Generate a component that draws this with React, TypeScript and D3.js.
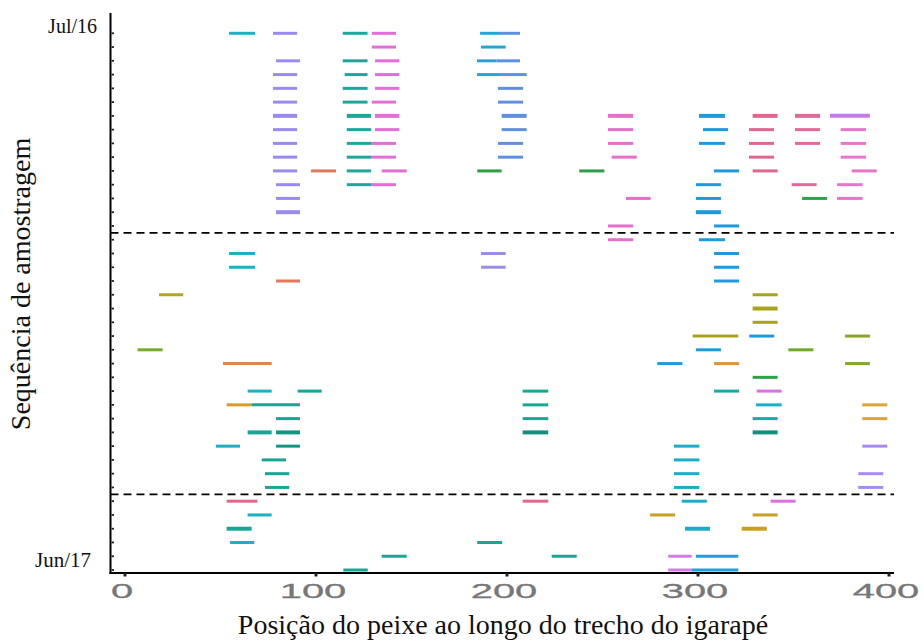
import React from "react";
import * as d3 from "d3";

// Sampling sequence: 40 consecutive surveys, Jul/16 (row 0) to Jun/17 (row 39)
const rowCount = 40;
const firstLabel = "Jul/16";
const lastLabel = "Jun/17";
// Boundaries between sampling periods (between rows)
const periodBreaks = [14.5, 33.5];
// Rows where repeated detections overlap (drawn a bit heavier)
const heavyRows = [6, 13, 20, 29, 36];
const xTicks = [0, 100, 200, 300, 400];

// Detections per tagged fish: [row, start (m), end (m)]
const fishCyan = [[0, 54.5, 68.1], [16, 54.5, 68.1], [17, 54.5, 68.1], [26, 64.2, 76.8], [30, 47.6, 60.2], [35, 64.2, 76.8], [37, 55, 67.7]];
const fishPurple = [[0, 77.5, 90.1], [2, 79.1, 91.6], [3, 77.5, 90.1], [4, 77.5, 90.1], [5, 77.5, 90.1], [6, 77.5, 90.1], [7, 77.5, 90.1], [8, 77.5, 90.1], [9, 77.5, 90.1], [10, 77.5, 90.1], [11, 79.1, 91.6], [12, 79.1, 91.6], [13, 79.1, 91.6]];
const fishTeal = [[0, 114, 127], [2, 114, 127], [3, 115, 127], [4, 114, 127], [5, 114, 127], [6, 116.1, 128.8], [7, 116.1, 128.8], [8, 116.1, 128.8], [9, 116.1, 128.8], [10, 116.1, 128.8], [11, 116.1, 128.8]];
const fishPink = [[0, 129.2, 141.9], [1, 129.2, 141.9], [2, 130.9, 143.6], [3, 130.9, 143.6], [4, 130.9, 143.6], [5, 129.2, 141.9], [6, 130.9, 143.6], [7, 130.9, 143.6], [8, 128.8, 141.9], [9, 128.8, 141.9], [10, 134.4, 147.5], [11, 128.8, 141.9]];
const fishSalmon = [[10, 97.4, 110.5], [18, 79.1, 91.6]];
const fishGreen = [[10, 184.4, 197.2], [10, 237.8, 251]];
const fishSky = [[0, 185.9, 196.3], [1, 186.4, 199.3], [2, 184.3, 194.6], [3, 184.3, 196.3]];
const fishSteel = [[0, 196.3, 206.8], [2, 194.6, 206.8], [3, 196.3, 210.3], [4, 195.3, 208.4], [5, 195.3, 208.4], [6, 197.2, 210.3], [7, 197.2, 210.3], [8, 195.3, 208.4], [9, 195.3, 208.4]];
const fishOrchidPink = [[6, 252.9, 266], [7, 252.9, 266], [8, 252.9, 266], [9, 254.8, 267.9], [12, 262.3, 275.2], [14, 252.9, 266], [15, 252.9, 266]];
const fishBlue = [[6, 300.5, 314.1], [7, 302.6, 315.7], [8, 300.5, 314.1], [10, 308.4, 321.5], [11, 298.9, 312], [12, 298.9, 312], [13, 298.9, 312], [14, 308.4, 321.5], [15, 300.5, 314.1], [16, 308.4, 321.5], [17, 308.4, 321.5], [18, 308.4, 321.5], [22, 326.8, 339.9], [23, 298.9, 312], [24, 278.7, 291.8]];
const fishRose = [[6, 328.6, 341.7], [7, 326.7, 339.8], [8, 326.7, 339.8], [9, 326.7, 339.8], [10, 328.6, 341.7]];
const fishRose2 = [[6, 350.8, 363.9], [7, 350.8, 363.9], [8, 350.8, 363.9], [11, 349, 362.1]];
const fishOrchid = [[6, 369.1, 390]];
const fishPink3 = [[7, 374.7, 388], [8, 374.7, 388], [9, 374.7, 388], [10, 380.5, 393.6], [11, 372.8, 386.2], [12, 372.8, 386.2]];
const fishGreen2 = [[12, 354.5, 367.5], [25, 328.6, 341.7]];
const fishLime = [[23, 347.3, 360.4]];
const fishLavender = [[16, 186.4, 199.3], [17, 186.4, 199.3]];
const fishOlive = [[19, 17.8, 30.5]];
const fishLightGreen = [[23, 6.6, 19.7]];
const fishOrange = [[24, 51.3, 76.8]];
const fishAmber = [[27, 53.2, 66.3]];
const fishOlive2 = [[19, 328.6, 341.7], [20, 328.6, 341.7], [21, 328.6, 341.7], [22, 297.2, 321.1]];
const fishOliveGreen = [[22, 377, 390], [24, 377, 390]];
const fishOrange2 = [[24, 308.4, 321.5]];
const fishGold2 = [[27, 386, 399.1], [28, 386, 399.1]];
const fishPurple3 = [[30, 386, 399.1], [32, 383.9, 397], [33, 383.9, 397]];
const fishRed = [[34, 53.2, 69.3], [34, 208.2, 221.6]];
const fishGold3 = [[35, 274.9, 288], [35, 328.6, 341.7], [36, 322.9, 336]];
const fishMagenta = [[26, 330.7, 343.8], [34, 338, 351.1]];
const fishPinkPurple = [[38, 284.4, 296.7], [39, 284.4, 296.7]];
const fishBlue2 = [[38, 298.9, 321.1], [39, 296.7, 321.1]];
const fishTeal2 = [[26, 90.4, 103], [27, 66.3, 91.6], [28, 79.1, 91.6], [29, 64.2, 76.8], [31, 71.6, 84.3], [32, 73.3, 86], [33, 73.3, 86], [36, 53.2, 66.3]];
const fishDarkTeal = [[29, 79.1, 91.6], [30, 79.1, 91.6]];
const fishTeal3 = [[26, 208.2, 221.6], [27, 208.2, 221.6], [28, 208.2, 221.6], [37, 184.4, 197.5], [38, 134.4, 147.5], [38, 223.4, 236.5], [39, 114.3, 127.1]];
const fishDarkTeal2 = [[29, 208.2, 221.6], [29, 328.6, 341.7]];
const fishTeal4 = [[26, 308.4, 321.5], [28, 328.6, 341.7]];
const fishCyan2 = [[27, 330.4, 343.8], [30, 287.4, 300.7], [31, 287.4, 300.7], [32, 287.4, 300.7], [33, 287.4, 300.7], [34, 291.5, 304.6], [36, 293.2, 306.3]];

const fishTable: { color: string; det: number[][] }[] = [
  { color: "#1bb0c4", det: fishCyan },
  { color: "#9a8af0", det: fishPurple },
  { color: "#1da79c", det: fishTeal },
  { color: "#e36ed8", det: fishPink },
  { color: "#e2785a", det: fishSalmon },
  { color: "#2e9f45", det: fishGreen },
  { color: "#22a6da", det: fishSky },
  { color: "#5f90e0", det: fishSteel },
  { color: "#e56fcb", det: fishOrchidPink },
  { color: "#1e9adc", det: fishBlue },
  { color: "#de6690", det: fishRose },
  { color: "#e0699a", det: fishRose2 },
  { color: "#c47be8", det: fishOrchid },
  { color: "#e676cc", det: fishPink3 },
  { color: "#2ea247", det: fishGreen2 },
  { color: "#6daa26", det: fishLime },
  { color: "#9a8dea", det: fishLavender },
  { color: "#b4a51e", det: fishOlive },
  { color: "#74ac2a", det: fishLightGreen },
  { color: "#e0864a", det: fishOrange },
  { color: "#d89c2c", det: fishAmber },
  { color: "#a9a21c", det: fishOlive2 },
  { color: "#84a824", det: fishOliveGreen },
  { color: "#e0953a", det: fishOrange2 },
  { color: "#dba53c", det: fishGold2 },
  { color: "#a68cf0", det: fishPurple3 },
  { color: "#e5668a", det: fishRed },
  { color: "#c9a020", det: fishGold3 },
  { color: "#df70e4", det: fishMagenta },
  { color: "#d47ce6", det: fishPinkPurple },
  { color: "#1fa0d6", det: fishBlue2 },
  { color: "#17a596", det: fishTeal2 },
  { color: "#129683", det: fishDarkTeal },
  { color: "#18a793", det: fishTeal3 },
  { color: "#11907f", det: fishDarkTeal2 },
  { color: "#19aaa6", det: fishTeal4 },
  { color: "#1badc8", det: fishCyan2 },
];

const W = 923;
const H = 641;
const axisX = 110.5;
const axisY = 573;
const axisTop = 13;
const axisRight = 894;

export default function App() {
  const x = d3.scaleLinear().domain([0, 400]).range([125, 889]);
  const y = d3.scaleLinear().domain([0, rowCount - 1]).range([33.3, 570]);
  const rows = d3.range(rowCount);
  const serif = "'Liberation Serif', 'Times New Roman', serif";
  const sans = "'Liberation Sans', Arial, sans-serif";

  return (
    <svg
      width={W}
      height={H}
      style={{ position: "absolute", left: 0, top: 0, background: "#fff" }}
    >
      {/* detections */}
      <g>
        {fishTable.map((f, i) =>
          f.det.map((d, j) => (
            <line
              key={`${i}-${j}`}
              x1={x(d[1])}
              x2={x(d[2])}
              y1={y(d[0])}
              y2={y(d[0])}
              stroke={f.color}
              strokeWidth={heavyRows.includes(d[0]) ? 4 : 3}
            />
          ))
        )}
      </g>

      {/* period separators */}
      {periodBreaks.map((b) => (
        <line
          key={b}
          x1={axisX}
          x2={axisRight}
          y1={y(b)}
          y2={y(b)}
          stroke="#000"
          strokeWidth={1.8}
          strokeDasharray="8,5"
        />
      ))}

      {/* axes */}
      <line x1={axisX} x2={axisX} y1={axisTop} y2={axisY + 1} stroke="#000" strokeWidth={2} />
      <line x1={axisX - 1} x2={axisRight} y1={axisY} y2={axisY} stroke="#000" strokeWidth={2} />
      {rows.map((r) => (
        <line
          key={r}
          x1={axisX + 1}
          x2={axisX + 3.5}
          y1={y(r)}
          y2={y(r)}
          stroke="#222"
          strokeWidth={1.8}
        />
      ))}
      {xTicks.map((t) => (
        <g key={t}>
          <line x1={x(t)} x2={x(t)} y1={axisY} y2={axisY + 3.5} stroke="#222" strokeWidth={3} />
          <text
            transform={`translate(${x(t) - 3},598) scale(1.9,1)`}
            textAnchor="middle"
            fontFamily={sans}
            fontSize={21}
            fill="#777"
            stroke="#777"
            strokeWidth={0.3}
          >
            {t}
          </text>
        </g>
      ))}

      <text x={97} y={33} textAnchor="end" fontFamily={serif} fontSize={20} fill="#111">
        {firstLabel}
      </text>
      <text x={91} y={567} textAnchor="end" fontFamily={serif} fontSize={21} fill="#111">
        {lastLabel}
      </text>

      <text
        x={503}
        y={634}
        textAnchor="middle"
        fontFamily={serif}
        fontSize={28}
        fill="#111"
      >
        Posição do peixe ao longo do trecho do igarapé
      </text>
      <text
        transform="translate(30,284) rotate(-90)"
        textAnchor="middle"
        fontFamily={serif}
        fontSize={28}
        fill="#111"
      >
        Sequência de amostragem
      </text>
    </svg>
  );
}
